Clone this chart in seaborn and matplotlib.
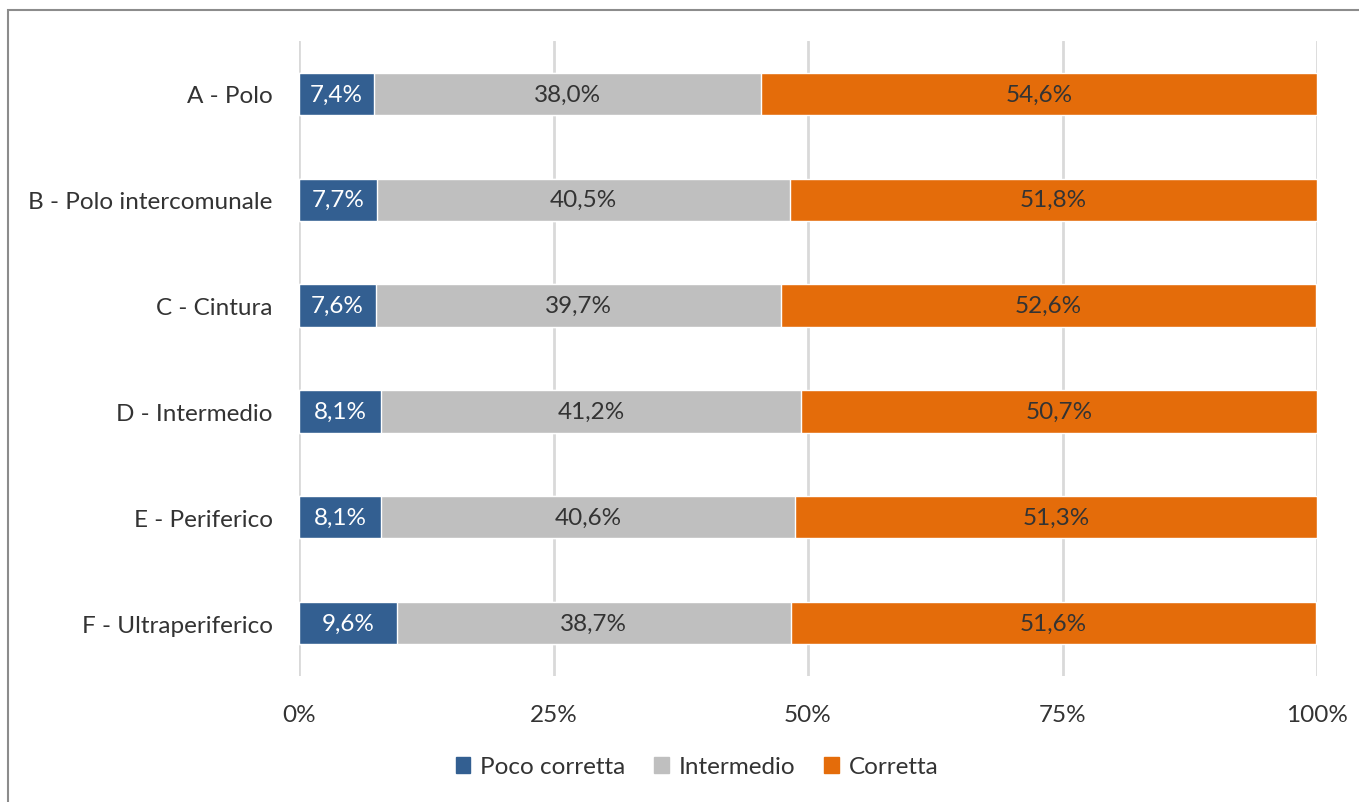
import matplotlib
matplotlib.use("Agg")
import matplotlib.pyplot as plt
import matplotlib.patches as mpatches
import seaborn as sns
import pandas as pd
import numpy as np

categories = ["A - Polo", "B - Polo intercomunale", "C - Cintura", "D - Intermedio",
              "E - Periferico", "F - Ultraperiferico"]
poco_corretta = [7.4, 7.7, 7.6, 8.1, 8.1, 9.6]
intermedio = [38.0, 40.5, 39.7, 41.2, 40.6, 38.7]
corretta = [54.6, 51.8, 52.6, 50.7, 51.3, 51.6]
series_names = ["Poco corretta", "Intermedio", "Corretta"]
xtick_values = [0, 25, 50, 75, 100]
xtick_labels = ["0%", "25%", "50%", "75%", "100%"]

colors = ["#335F91", "#BFBFBF", "#E46C0A"]
text_colors = ["white", "#333333", "#333333"]

sns.set_theme(style="white")
plt.rcParams["font.family"] = ["Lato", "DejaVu Sans"]

FS = 17.5

fig = plt.figure(figsize=(13.59, 8.03), dpi=100)
ax = fig.add_axes([299/1359, 1 - 677/803, (1317 - 299)/1359, (677 - 42)/803])

p = np.array(poco_corretta)
m = np.array(intermedio)
c = np.array(corretta)
df = pd.DataFrame({
    "cat": categories,
    "c1": p,
    "c2": p + m,
    "c3": p + m + c,
})

for col, color in zip(["c3", "c2", "c1"], colors[::-1]):
    sns.barplot(data=df, x=col, y="cat", orient="h", color=color, width=0.4,
                saturation=1, ax=ax, zorder=3)

starts = [np.zeros(len(p)), p, p + m]
vals = [p, m, c]
for s_arr, v_arr, tc in zip(starts, vals, text_colors):
    for i, (s0, v) in enumerate(zip(s_arr, v_arr)):
        ax.text(s0 + v / 2, i, f"{v:.1f}".replace(".", ",") + "%", ha="center",
                va="center", color=tc, fontsize=FS, zorder=5)

ax.set_xlim(0, 100)
ax.set_ylim(5.5, -0.5)
ax.set_xticks(xtick_values)
ax.set_xticklabels(xtick_labels)
ax.set_xlabel("")
ax.set_ylabel("")
ax.grid(axis="x", color="#D9D9D9", linewidth=2, zorder=0)
ax.grid(axis="y", visible=False)
for s in ax.spines.values():
    s.set_visible(False)
ax.tick_params(axis="both", length=0, labelsize=FS, labelcolor="#333333")
ax.tick_params(axis="x", pad=20)
ax.tick_params(axis="y", pad=19)

handles = [mpatches.Patch(color=col, label=n) for col, n in zip(colors, series_names)]
fig.legend(handles=handles, loc="center", bbox_to_anchor=(697/1359, 1 - 768/803),
           ncol=3, frameon=False, fontsize=FS, handlelength=0.6, handleheight=0.6,
           handletextpad=0.4, columnspacing=1.2, labelcolor="#333333")

border = mpatches.Rectangle((8/1359, -0.1), 1.2, 1 - 11/803 + 0.1, transform=fig.transFigure,
                            fill=False, edgecolor="#8C8C8C", linewidth=1.5)
fig.add_artist(border)

fig.savefig("out.png", dpi=100, facecolor="white")
